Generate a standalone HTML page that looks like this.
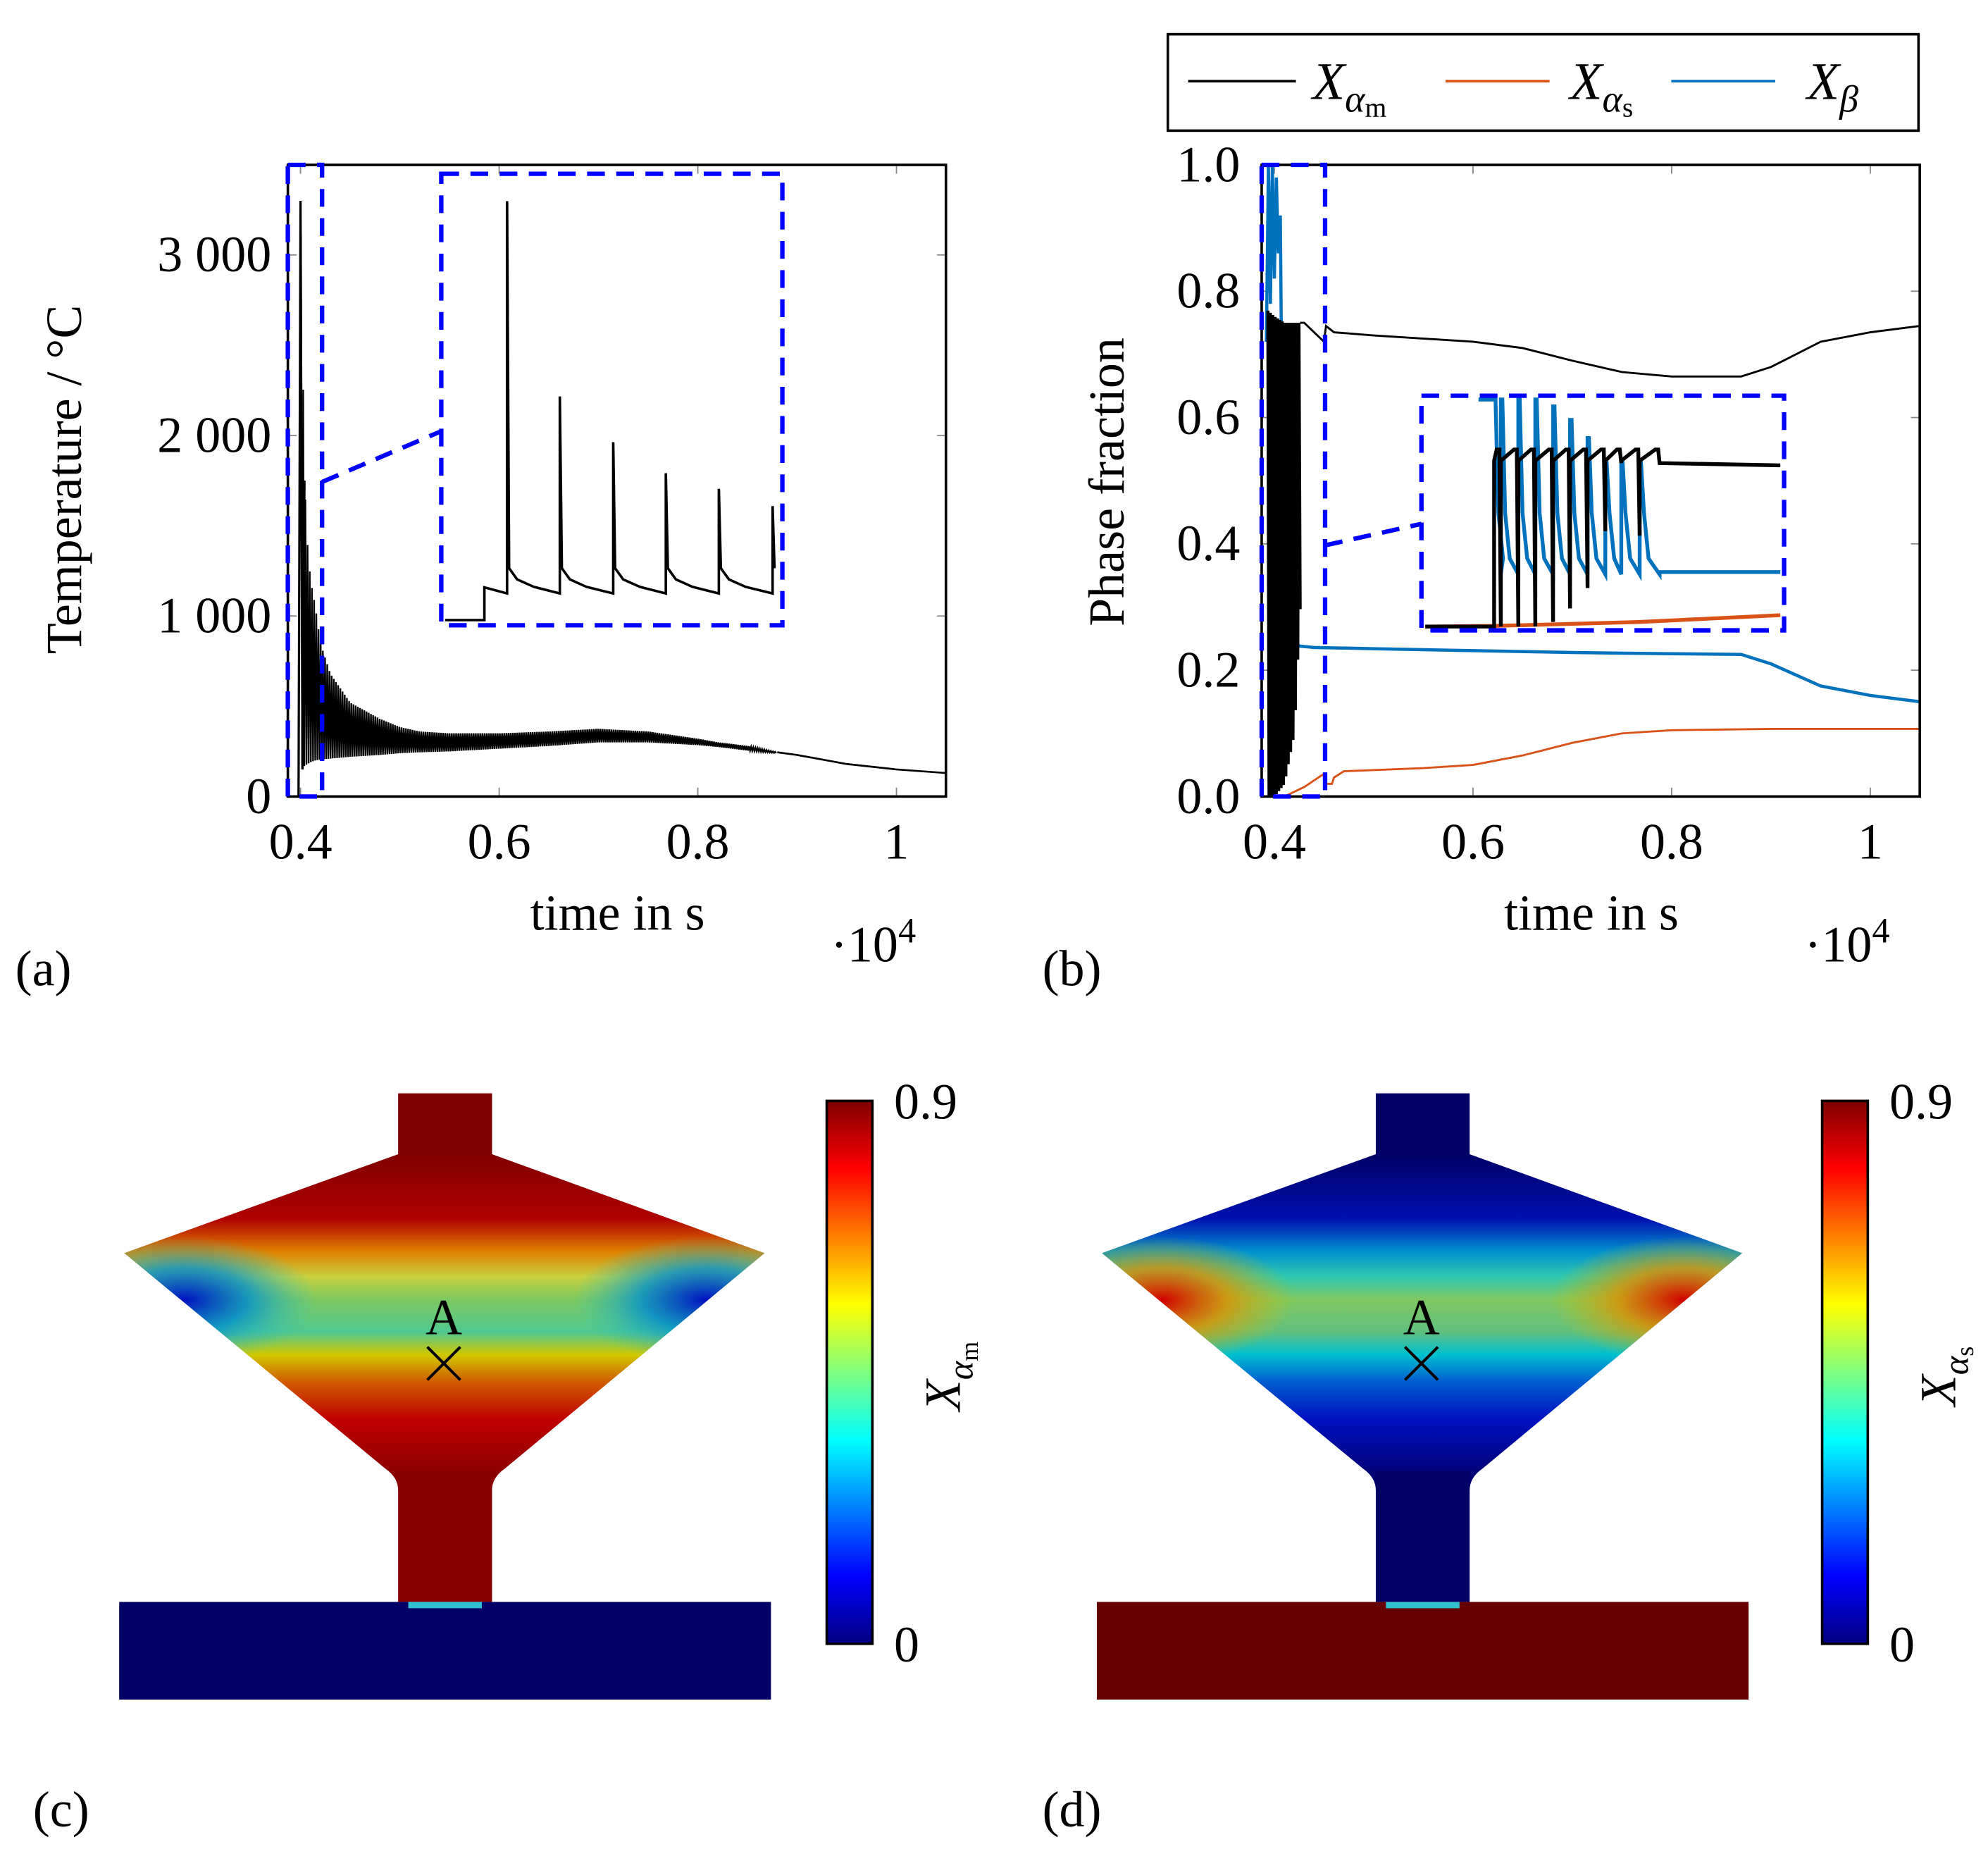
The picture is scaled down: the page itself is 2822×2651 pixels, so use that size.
<!DOCTYPE html>
<html><head><meta charset="utf-8">
<style>
html,body{margin:0;padding:0;background:#fff;}
svg{display:block;}
text{font-family:"Liberation Serif",serif;fill:#000;}
</style></head>
<body>
<svg id="fig" width="2822" height="2651" viewBox="0 0 1567.8 1472.8" xmlns="http://www.w3.org/2000/svg">
<defs>
  <linearGradient id="jet" x1="0" y1="1" x2="0" y2="0">
    <stop offset="0" stop-color="#000080"/><stop offset="0.125" stop-color="#0000ff"/>
    <stop offset="0.375" stop-color="#00ffff"/><stop offset="0.625" stop-color="#ffff00"/>
    <stop offset="0.875" stop-color="#ff0000"/><stop offset="1" stop-color="#800000"/>
  </linearGradient>
  <linearGradient id="fieldC" x1="0" y1="910" x2="0" y2="1165" gradientUnits="userSpaceOnUse">
    <stop offset="0" stop-color="#800000"/><stop offset="0.2" stop-color="#b00000"/>
    <stop offset="0.3" stop-color="#e08000"/><stop offset="0.38" stop-color="#c8d040"/>
    <stop offset="0.45" stop-color="#7cc860"/><stop offset="0.55" stop-color="#50c890"/>
    <stop offset="0.62" stop-color="#d0c800"/><stop offset="0.7" stop-color="#d06000"/>
    <stop offset="0.82" stop-color="#c00000"/><stop offset="1" stop-color="#880000"/>
  </linearGradient>
  <linearGradient id="fieldD" x1="0" y1="910" x2="0" y2="1165" gradientUnits="userSpaceOnUse">
    <stop offset="0" stop-color="#000066"/><stop offset="0.2" stop-color="#0010b0"/>
    <stop offset="0.3" stop-color="#0090d0"/><stop offset="0.38" stop-color="#30c8b0"/>
    <stop offset="0.45" stop-color="#80c860"/><stop offset="0.55" stop-color="#60c080"/>
    <stop offset="0.62" stop-color="#00c0d0"/><stop offset="0.7" stop-color="#0060d0"/>
    <stop offset="0.82" stop-color="#0010c0"/><stop offset="1" stop-color="#000070"/>
  </linearGradient>
  <radialGradient id="sideC" cx="0.5" cy="0.5" r="0.5">
    <stop offset="0" stop-color="#0010c0" stop-opacity="1"/><stop offset="0.5" stop-color="#0090d0" stop-opacity="0.8"/><stop offset="1" stop-color="#30c8c0" stop-opacity="0"/>
  </radialGradient>
  <radialGradient id="sideD" cx="0.5" cy="0.5" r="0.5">
    <stop offset="0" stop-color="#d00000" stop-opacity="1"/><stop offset="0.5" stop-color="#e09000" stop-opacity="0.8"/><stop offset="1" stop-color="#d0c000" stop-opacity="0"/>
  </radialGradient>
  <clipPath id="clipC"><path d="M314,862 L388,862 L388,910 L603,988 L398,1158 Q388,1165 388,1175 L388,1263 L314,1263 L314,1175 Q314,1165 304,1158 L98,988 L314,910 Z"/></clipPath>
  <clipPath id="clipD"><path d="M1085,862 L1159,862 L1159,910 L1374,988 L1169,1158 Q1159,1165 1159,1175 L1159,1263 L1085,1263 L1085,1175 Q1085,1165 1075,1158 L869,988 L1085,910 Z"/></clipPath>
  <clipPath id="clipA"><rect x="227" y="130" width="519" height="498"/></clipPath>
  <clipPath id="clipB"><rect x="995" y="130" width="519" height="498"/></clipPath>
</defs>
<g id="layer"></g>
</svg>
<script>
// ---------- data: panel (a) temperature ----------
const tempEnvTime = [0.398,0.400,0.404,0.407,0.410,0.415,0.420,0.430,0.450,0.480,0.500,0.520,0.550,0.600,0.650,0.700,0.750,0.800,0.820,0.850,0.880,0.900,0.950,1.000,1.050];
const tempUpper   = [200,3300,1750,1400,1200,1050,850,680,520,430,385,360,350,350,360,375,360,320,300,280,245,230,180,150,130];
const tempLower   = [0,150,170,180,190,200,205,210,220,230,240,245,250,265,280,300,300,285,275,255,240,225,180,150,130];
const tempTicks = [0,1000,2000,3000];
const tempTickLabels = ["0","1 000","2 000","3 000"];
const timeTicks = [0.4,0.6,0.8,1.0];
const timeTickLabels = ["0.4","0.6","0.8","1"];
// inset (a): normalized inset time / value
const insetAPeaks = [0.947,0.507,0.404,0.334,0.299,0.26];
const insetASpikeT = [0.186,0.344,0.504,0.662,0.821,0.982];
const insetAAfter = 0.12, insetATrough = 0.063;
// ---------- data: panel (b) phase fractions ----------
const phaseTicks = [0,0.2,0.4,0.6,0.8,1.0];
const phaseTickLabels = ["0.0","0.2","0.4","0.6","0.8","1.0"];
const amOscTime  = [0.393,0.400,0.410,0.420,0.426];
const amOscUpper = [0.77,0.76,0.75,0.75,0.75];
const amOscLower = [0.0,0.0,0.02,0.1,0.3];
const amTime  = [0.426,0.430,0.450,0.452,0.460,0.500,0.600,0.650,0.700,0.750,0.800,0.870,0.900,0.950,1.000,1.050];
const amValue = [0.75,0.75,0.72,0.745,0.735,0.73,0.72,0.71,0.69,0.672,0.665,0.665,0.68,0.72,0.735,0.745];
const betaTime  = [0.392,0.394,0.396,0.398,0.400,0.402,0.404,0.406,0.408,0.410,0.413,0.416,0.418,0.420,0.423,0.426,0.440,0.500,0.600,0.700,0.800,0.870,0.900,0.950,1.000,1.050];
const betaValue = [0.72,1.0,0.78,1.0,0.82,0.98,0.86,0.92,0.55,0.6,0.35,0.44,0.28,0.30,0.24,0.238,0.236,0.234,0.231,0.228,0.226,0.225,0.21,0.175,0.16,0.15];
const asTime  = [0.390,0.410,0.430,0.450,0.452,0.458,0.460,0.470,0.550,0.600,0.650,0.700,0.750,0.800,0.900,1.050];
const asValue = [0,0,0.015,0.036,0.02,0.02,0.03,0.04,0.045,0.05,0.065,0.085,0.1,0.105,0.107,0.107];
// inset (b) normalized
const insetBSpikeT   = [0.194,0.213,0.262,0.310,0.360,0.408,0.457,0.507,0.552,0.604];
const insetBBlackLow = [0.0,0.0,0.0,0.0,0.02,0.08,0.17,0.42,0.72,0.40];
const insetBBlueTop  = [1.0,1.0,1.0,1.0,0.97,0.91,0.83,0.72,0.72,0.72];
const insetBBlackTop = 0.78, insetBBlueLow = 0.23, insetBBlackEnd = 0.72, insetBBlueEnd = 0.24;
const insetBOrangeT = [0.0,0.2,0.6,1.0], insetBOrangeV = [0.0,0.003,0.02,0.05];

const NS="http://www.w3.org/2000/svg";
const layer=document.getElementById('layer');
function mk(tag,attrs,parent){const e=document.createElementNS(NS,tag);for(const k in attrs)e.setAttribute(k,attrs[k]);(parent||layer).appendChild(e);return e;}
function interp(xs,ys,x){if(x<=xs[0])return ys[0];for(let i=1;i<xs.length;i++){if(x<=xs[i]){const f=(x-xs[i-1])/(xs[i]-xs[i-1]||1);return ys[i-1]+f*(ys[i]-ys[i-1]);}}return ys[ys.length-1];}

const xa=t=>237+(t-0.4)*783.3, ya=v=>628-v*0.14233;
const xb=t=>1005+(t-0.4)*783.3, yb=v=>628-v*498;

function axesFrame(name){
  const g=mk('g',{});
  
  
  return g;
}
function drawTicks(g,x0,y0,w,h,xs,xf,ys,yf){
  xs.forEach(t=>{const x=xf(t);
    const a=mk('line',{x1:x,y1:y0+h,x2:x,y2:y0+h-7,stroke:'#888','stroke-width':1},g);
    
    const b=mk('line',{x1:x,y1:y0,x2:x,y2:y0+7,stroke:'#888','stroke-width':1},g);
    });
  ys.forEach(v=>{const y=yf(v);
    const a=mk('line',{x1:x0,y1:y,x2:x0+7,y2:y,stroke:'#888','stroke-width':1},g);
    
    const b=mk('line',{x1:x0+w,y1:y,x2:x0+w-7,y2:y,stroke:'#888','stroke-width':1},g);
    });
}
function txt(g,x,y,s,size,anchor,name,extra){
  const t=mk('text',Object.assign({x:x,y:y,'font-size':size,'text-anchor':anchor||'start'},extra||{}),g);
  t.textContent=s;
  
  
  return t;
}
function zig(xs,up,lo,t0,t1,step,xf,yf){
  let pts=[];let k=0;
  for(let t=t0;t<=t1;t+=step){const v=(k%2==0)?interp(xs,up,t):interp(xs,lo,t);pts.push(xf(t).toFixed(2)+','+yf(v).toFixed(2));k++;}
  return pts.join(' ');
}
function line(xs,vs,xf,yf){return xs.map((t,i)=>xf(t).toFixed(2)+','+yf(vs[i]).toFixed(2)).join(' ');}

// ================= Panel (a) =================
const gA=axesFrame('temperature-chart');
drawTicks(gA,227,130,519,498,timeTicks,xa,tempTicks,ya);
const gAc=mk('g',{'clip-path':'url(#clipA)'},gA);
const tz=mk('polyline',{points:zig(tempEnvTime,tempUpper,tempLower,0.4005,0.88,0.0011,xa,ya),fill:'none',stroke:'#000','stroke-width':1.3},gAc);


const tTail=tempEnvTime.filter(t=>t>=0.88);
const tl=mk('polyline',{points:line(tTail,tTail.map(t=>interp(tempEnvTime,tempUpper,t)),xa,ya),fill:'none',stroke:'#000','stroke-width':1.5},gAc);


const spT=[tempEnvTime[0],tempEnvTime[1],tempEnvTime[1],tempEnvTime[1]+0.002,tempEnvTime[2]];
const spV=[0,tempUpper[1],tempUpper[1],tempLower[1],tempUpper[2]];
const ts=mk('polyline',{points:line(spT,spV,xa,ya),fill:'none',stroke:'#000','stroke-width':1.8},gAc);


mk('rect',{x:227,y:130,width:519,height:498,fill:'none',stroke:'#000','stroke-width':2},gA);
tempTicks.forEach((v,i)=>txt(gA,214,ya(v)+13,tempTickLabels[i],40,'end','y-tick-label'));
timeTicks.forEach((v,i)=>txt(gA,xa(v),677,timeTickLabels[i],40,'middle','x-tick-label'));
txt(gA,487,733,'time in s',40,'middle','x-axis-title');
const e1=txt(gA,655,758,'·10',40,'start','x-exponent');const s1=mk('tspan',{dy:-15,'font-size':28},e1);s1.textContent='4';
txt(gA,0,0,'Temperature / °C',40,'middle','y-axis-title',{transform:'translate(64,378) rotate(-90)'});
mk('rect',{x:227,y:130,width:27,height:498,fill:'none',stroke:'#00f','stroke-width':3.5,'stroke-dasharray':'14,9'},gA);
mk('line',{x1:254,y1:380,x2:348,y2:340,stroke:'#00f','stroke-width':3.5,'stroke-dasharray':'14,9'},gA);
const IAx=348,IAy=137,IAw=269,IAh=356;
const iax=f=>IAx+3+f*(IAw-6), iay=v=>IAy+IAh-3-v*(IAh-6);
let ipts=[[0,0.003],[0.118,0.003],[0.118,0.077],[0.186,insetATrough]];
insetASpikeT.forEach((t,i)=>{ipts.push([t,insetAPeaks[i]]);ipts.push([t+0.006,insetAAfter]);
  if(i+1<insetASpikeT.length){const nt=insetASpikeT[i+1];ipts.push([t+0.03,0.095]);ipts.push([t+0.08,0.078]);ipts.push([nt,insetATrough]);}});
const ia=mk('polyline',{points:ipts.map(p=>iax(p[0]).toFixed(1)+','+iay(p[1]).toFixed(1)).join(' '),fill:'none',stroke:'#000','stroke-width':2},gA);


const iab=mk('rect',{x:IAx,y:IAy,width:IAw,height:IAh,fill:'none',stroke:'#00f','stroke-width':3.5,'stroke-dasharray':'14,9'},gA);


txt(gA,12,777,'(a)',40,'start','panel-label-a');

// ================= Panel (b) =================
const gB=axesFrame('phase-fraction-chart');
drawTicks(gB,995,130,519,498,timeTicks,xb,phaseTicks,yb);
const gBc=mk('g',{'clip-path':'url(#clipB)'},gB);
const pAs=mk('polyline',{points:line(asTime,asValue,xb,yb),fill:'none',stroke:'#d95319','stroke-width':1.6},gBc);


const pBe=mk('polyline',{points:line(betaTime,betaValue,xb,yb),fill:'none',stroke:'#0072bd','stroke-width':2.5},gBc);


const pAmO=mk('polyline',{points:zig(amOscTime,amOscUpper,amOscLower,0.3935,0.426,0.0012,xb,yb),fill:'none',stroke:'#000','stroke-width':2.5},gBc);


const pAm=mk('polyline',{points:line(amTime,amValue,xb,yb),fill:'none',stroke:'#000','stroke-width':1.6},gBc);


mk('rect',{x:995,y:130,width:519,height:498,fill:'none',stroke:'#000','stroke-width':2},gB);
phaseTicks.forEach((v,i)=>txt(gB,978,yb(v)+13,phaseTickLabels[i],40,'end','y-tick-label'));
timeTicks.forEach((v,i)=>txt(gB,xb(v),677,timeTickLabels[i],40,'middle','x-tick-label'));
txt(gB,1255,733,'time in s',40,'middle','x-axis-title');
const e2=txt(gB,1423,758,'·10',40,'start','x-exponent');const s2=mk('tspan',{dy:-15,'font-size':28},e2);s2.textContent='4';
txt(gB,0,0,'Phase fraction',40,'middle','y-axis-title',{transform:'translate(886,380) rotate(-90)'});
mk('rect',{x:995,y:130,width:50,height:498,fill:'none',stroke:'#00f','stroke-width':3.5,'stroke-dasharray':'14,9'},gB);
mk('line',{x1:1045,y1:430,x2:1121,y2:413,stroke:'#00f','stroke-width':3.5,'stroke-dasharray':'14,9'},gB);
const IBx=1121,IBy=312,IBw=286,IBh=185;
const ibx=f=>IBx+3+f*(IBw-6), iby=v=>IBy+IBh-3-v*(IBh-6);
const io=mk('polyline',{points:line(insetBOrangeT,insetBOrangeV,ibx,iby),fill:'none',stroke:'#d95319','stroke-width':3},gB);


let bp=[[0.15,1.0]];
insetBSpikeT.forEach((t,i)=>{bp.push([t,insetBBlueTop[i]]);bp.push([t+0.004,insetBBlueTop[i]]);bp.push([t+0.012,0.5]);const nt=(i+1<insetBSpikeT.length)?insetBSpikeT[i+1]:0.66;bp.push([t+0.025,0.30]);bp.push([nt,insetBBlueLow]);});
bp.push([0.66,insetBBlueEnd]);bp.push([1.0,insetBBlueEnd]);
const ib=mk('polyline',{points:bp.map(p=>ibx(p[0]).toFixed(1)+','+iby(p[1]).toFixed(1)).join(' '),fill:'none',stroke:'#0072bd','stroke-width':3},gB);


let kp=[[0,0],[insetBSpikeT[0],0]];
insetBSpikeT.forEach((t,i)=>{kp.push([t,insetBBlackTop-0.05]);const nt=(i+1<insetBSpikeT.length)?insetBSpikeT[i+1]:0.66;kp.push([nt-0.012,insetBBlackTop]);kp.push([nt-0.004,insetBBlackTop]);if(i+1<insetBSpikeT.length)kp.push([nt,insetBBlackLow[i+1]]);});
kp.push([0.66,insetBBlackEnd]);kp.push([1.0,insetBBlackEnd-0.01]);
const ik=mk('polyline',{points:kp.map(p=>ibx(p[0]).toFixed(1)+','+iby(p[1]).toFixed(1)).join(' '),fill:'none',stroke:'#000','stroke-width':3},gB);


const ibb=mk('rect',{x:IBx,y:IBy,width:IBw,height:IBh,fill:'none',stroke:'#00f','stroke-width':3.5,'stroke-dasharray':'14,9'},gB);


txt(gB,822,777,'(b)',40,'start','panel-label-b');
// legend
const lg=mk('g',{});


mk('rect',{x:921,y:27,width:592,height:76,fill:'#fff',stroke:'#000','stroke-width':2},lg);
const legItems=[['#000',937,1022,1035,'m','legend-entry-alpha-m'],['#d95319',1140,1222,1238,'s','legend-entry-alpha-s'],['#0072bd',1318,1400,1425,'β','legend-entry-beta']];
legItems.forEach(it=>{
  const l=mk('line',{x1:it[1],y1:64,x2:it[2],y2:64,stroke:it[0],'stroke-width':2},lg);
  
  
  const t=txt(lg,it[3],78,'X',42,'start',it[5]+'-label',{'font-style':'italic'});
  const sub=mk('tspan',{dy:10,'font-size':30},t);
  if(it[4]==='β'){sub.textContent='β';}else{sub.textContent='α';const s=mk('tspan',{'font-size':22,'font-style':'normal',dy:4},t);s.textContent=it[4];}
});

// ================= Panels (c),(d) fields =================
function field(dx,cbx,clip,grad,side,baseColor,name,cbName,sub,plabel,plx){
  const g=mk('g',{});
  
  
  const c=mk('g',{'clip-path':'url(#'+clip+')'},g);
  mk('rect',{x:90+dx,y:860,width:520,height:410,fill:'url(#'+grad+')'},c);
  mk('ellipse',{cx:145+dx,cy:1025,rx:105,ry:50,fill:'url(#'+side+')'},c);
  mk('ellipse',{cx:557+dx,cy:1025,rx:105,ry:50,fill:'url(#'+side+')'},c);
  mk('rect',{x:314+dx,y:860,width:74,height:52,fill:(grad==='fieldC'?'#800000':'#000066')},c);
  mk('rect',{x:314+dx,y:1160,width:74,height:105,fill:(grad==='fieldC'?'#880000':'#000066')},c);
  const base=mk('rect',{x:94+dx,y:1263,width:514,height:77,fill:baseColor},g);
  
  
  mk('rect',{x:322+dx,y:1263,width:58,height:5,fill:'#30c0d0'},g);
  txt(g,350+dx,1052,'A',40,'middle','point-a-label');
  const x1=mk('path',{d:`M${337+dx},${1062} L${363+dx},${1088} M${363+dx},${1062} L${337+dx},${1088}`,stroke:'#000','stroke-width':2.2},g);
  
  
  const cb=mk('rect',{x:cbx,y:868,width:36,height:428,fill:'url(#jet)',stroke:'#000','stroke-width':2},g);
  
  
  txt(g,cbx+53,882,'0.9',40,'start','colorbar-max-label');
  txt(g,cbx+53,1310,'0',40,'start','colorbar-min-label');
  const t=txt(g,0,0,'X',40,'middle','colorbar-title',{'font-style':'italic',transform:`translate(${cbx+105},1085) rotate(-90)`});
  const s=mk('tspan',{dy:10,'font-size':28},t);s.textContent='α';
  const s2=mk('tspan',{'font-size':20,'font-style':'normal',dy:4},t);s2.textContent=sub;
  txt(g,plx,1440,plabel,40,'start','panel-label-'+plabel[1]);
}
field(0,652,'clipC','fieldC','sideC','#000066','alpha-m-field-map','colorbar-alpha-m','m','(c)',26);
field(771,1437,'clipD','fieldD','sideD','#660000','alpha-s-field-map','colorbar-alpha-s','s','(d)',822);
</script>
</body></html>
